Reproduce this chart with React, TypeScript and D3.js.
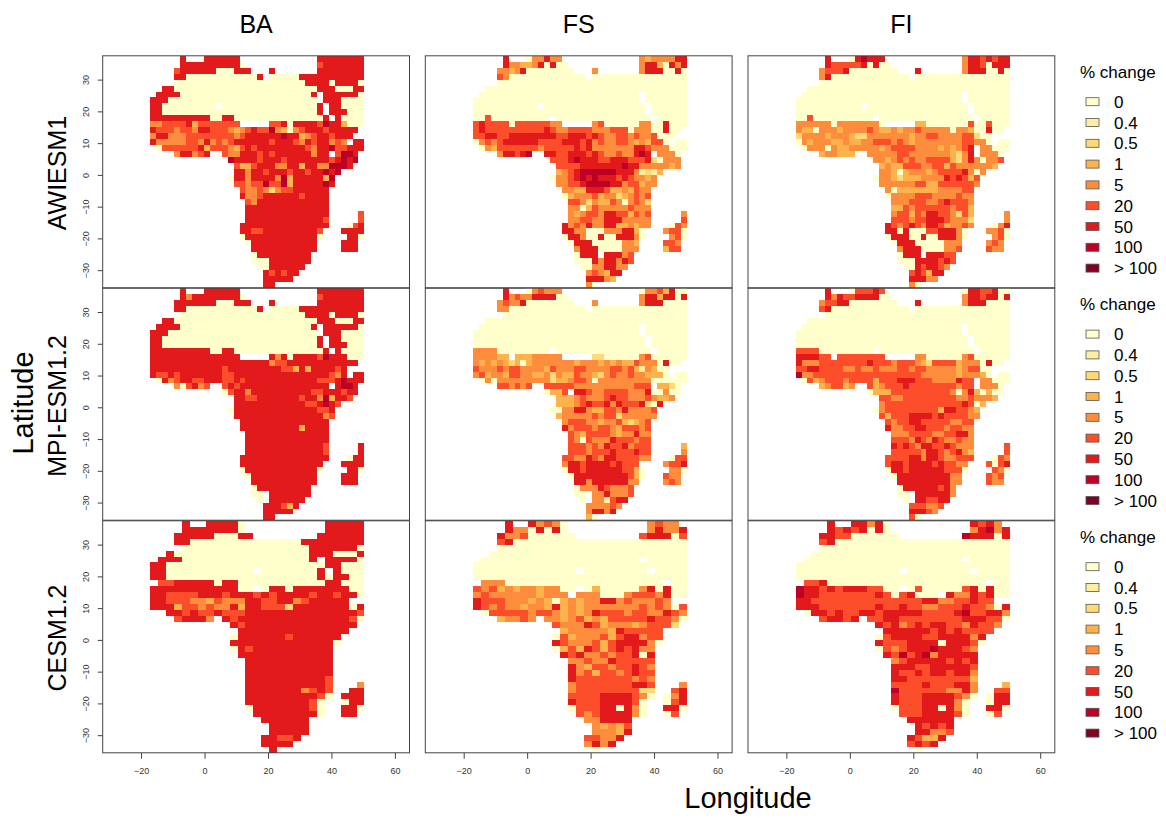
import React, { useEffect, useRef } from 'react';
import * as d3 from 'd3';

// class index -> colour, one per legend entry
const classColors = ['#FFFFCC', '#FFEDA0', '#FED976', '#FEB24C', '#FD8D3C', '#FC4E2A', '#E31A1C', '#BD0026', '#800026'];
const classLabels = ['0', '0.4', '0.5', '1', '5', '20', '50', '100', '> 100'];
const columnNames = ['BA', 'FS', 'FI'];
const modelNames = ['AWIESM1', 'MPI-ESM1.2', 'CESM1.2'];
const lonTicks = [-20, 0, 20, 40, 60];
const latTicks = [-30, -20, -10, 0, 10, 20, 30];

// rows north to south, tokens are "count*class" or literal classes, "." is no data
const baAwi = [
  '5*. 6 3*. 6*6 13*. 8*6',
  '5*. 10*6 0 12*. 5 7*6',
  '4*. 5 6*6 000 666 ... 6 7*. 8*6',
  '4*. 66 12*0 6 . 5*0 11*6',
  '4*. 22*0 6666 0 6666 0',
  '.. 66 24*0 666 000 66',
  '. 6666 22*0 6 . 6*6 0',
  '666 25*0 . 666 0000',
  '66 9*0 . 16*0 6 . 66 0000',
  '66 26*0 6 . 666 000',
  '10*6 00 66 15*0 6 . 6 0000',
  '44 5555 6 3 555555 5 5*. 55 6 0 6666 5 7 66 3 000',
  '6 555 4 55 4 66 555 4 3 4 5 6 55 7 4 3 0 4 5 666 5 66666 .',
  '4 66 444 5555555 5 4 5 666666 7 66 3 4 5 66 5 666 ..',
  '6 44444 55 4 6 4 5 4 5 666666 5 666 5 4 6 5 66 4 5 4 . 66',
  '. 0 555555 6 3 5 5 5 4 3 5 6 5 8*6 5 4 66 7 55 666',
  '4*. 4 66 4 5 6 .. 5 44 666 5 6 5 666666 4 66 . 5 77 6 .',
  '13*. 7 6666 5 666 5 7*6 5 6 7 6 7 .',
  '14*. 5 33 5 666 44 66 3 66 44 777 6 ..',
  '14*. 66 4 66 5 666 5 66 5 66 7 6 7 ....',
  '13*. 0 66 4 6666 4 7 3 66666 3 7 5*.',
  '14*. 55 4 55 7 55 7 3 66666 7 6 5*.',
  '15*. 5 44 5 4 2 4 55 666666 6*.',
  '15*. 6 44 5 666666 5 6666 6*.',
  '16*. 5 4 12*6 6*.',
  '16*. 14*6 6*.',
  '16*. 14*6 5*. 5',
  '16*. 13*6 5 5*. 5',
  '15*. 15*6 ... 0 5 6',
  '15*. 66 55 9*6 5 ... 6666',
  '15*. 0 12*6 0 4*. 66 0',
  '16*. 0 11*6 4*. 666 .',
  '17*. 11*6 4*. 666 .',
  '17*. 0 9*6 9*.',
  '17*. 000 7*6 9*.',
  '18*. 00 6*6 10*.',
  '19*. 6 5 6 5 66 11*.',
  '19*. 66666 12*.',
  '19*. 66 15*.',
];

const fsAwi = [
  '5*. 6 3*. 0 446 44 13*. 4 3 4444 66',
  '5*. 6 44 33 4 6 0 6 00 12*. 4 66 3 0 6 4 6',
  '4*. 44 3 4 6 8*0 ... 4 7*. 4 666 00 6 0',
  '4*. 5 4 13*0 . 16*0',
  '4*. 32*0',
  '.. 34*0',
  '. 27*0 . 7*0',
  '28*0 . 7*0',
  '11*0 . 17*0 . 6*0',
  '29*0 . 6*0',
  '00 5 10*0 . 16*0 . 5*0',
  '5 6 5555 0 555555 44 5*. 4 5 000000 44 00 6 000',
  '5 6 10*5 6 5 44 5555 444 555 0 444 00 6 00 .',
  '55 66 55 66666666 55 666 5 6 5 44 55 4 5 44 5 000 ..',
  '0 4 5 4 5 666666 5555 666 5 6 4 5 44 55 4 3 4 3 5 5 0 . 00',
  '. 0 4 3 5555555 4 55555 6 5 6 4444444 66 5 444 000',
  '4*. 4 66 5 6 7 .. 66 55 666 5 6 5 44 5 44 6 7 6 . 444 0 .',
  '13*. 555 6 7 666 55 666 55 5 6 2 0 444 .',
  '14*. 5555 7*6 7 66 44444 3 4 .',
  '14*. 3 4 5 6 777777 666 4 1 2 1 3 4*.',
  '13*. 0 44 5 6 7 6 7 666 5 6 5 44 3 4 5*.',
  '14*. 44 55 6 7777 66 4 55 3 44 5*.',
  '15*. 44 33 666 5 33 4 3 5 44 6*.',
  '15*. 0 3 444 5 3 44 2 3 4 5 4 5 6*.',
  '16*. 55 4 2 4 33 5 4 0 4 5 4 2 6*.',
  '16*. 44 0 3 5 44 444 5 444 6*.',
  '16*. 4 3 4 55 4 66 55 3 5 4 5 5*. 4',
  '16*. 4 4 55 44 666 4 444 4 5*. 5',
  '15*. 6 4 5 4 6 44 66 33 4 3 44 ... 0 5 4',
  '15*. 66 44 0 00 444 66 3 0 ... 4 55 0',
  '15*. 0 66 4 00 6 00 666 4 0 4*. 4 5 0',
  '16*. 0 666 00000 44 3 4*. 55 4 .',
  '17*. 4 666 0000 44 4 4*. 3 55 .',
  '17*. 0 666 . 666 45 9*.',
  '17*. 000 6 4 66 4 6 5 9*.',
  '18*. 00 44 66 44 10*.',
  '19*. 4 5 4 3 66 11*.',
  '19*. 666 43 12*.',
  '19*. 4 0 15*.',
];

const fiAwi = [
  '5*. 6 3*. 0 67 666 13*. 4 66 5 6 5 66',
  '5*. 6 55555 6 0 6 00 12*. 4 66 5 0 666',
  '4*. 4 55 5 6 8*0 ... 6 7*. 4 666 00 6 0',
  '4*. 4 6 13*0 . 16*0',
  '4*. 32*0',
  '.. 34*0',
  '. 27*0 . 7*0',
  '28*0 . 7*0',
  '11*0 . 17*0 . 6*0',
  '29*0 . 6*0',
  '00 5 10*0 . 16*0 . 5*0',
  '444444 0 444444 4 0 5*. 33 7*0 5 00 5 000',
  '4 33 0 444 3 4444 5 4 33 4 3 44 5 4 4444 0 44 3 00 6 00 .',
  '2 4444 3 444 3 22 7*4 3 44 55 4444 55 2 00 ...',
  '0 4 3 444 33 4 33 44 555 4 5 4 3 8*4 55 44 0 . 00',
  '. 0 44 4 0 4 33 44444 3 4 5555 4444 3 4 3 4 56 . 44 000',
  '4*. 3 44 333 .. 44444 55 7*4 3 2 4 6 . 444 0 .',
  '13*. 44 3 4 5 4 5 44 5555 3 2 4 6 4 0 44 5 .',
  '14*. 3 4 33 555 44 55 3 5 44 4444 3 ..',
  '14*. 44 3 0 3 44 4 3 4 5 555 6 4 0 4 4*.',
  '13*. 0 44 3 2 333 44 44 6 5 6 5 3 5 5*.',
  '14*. 6*4 55 33 6*5 4 5*.',
  '15*. 4 0 7*3 44 44 55 6*.',
  '15*. 0 4444 555 444 4 5 44 6*.',
  '16*. 444 555 44 5 6 555 4 6*.',
  '16*. 33 5 4 55 5555 4 55 3 6*.',
  '16*. 4 55 3 5 4 66 55 4 2 5 3 5*. 4',
  '16*. 555 4 55 666 5 4 44 2 5*. 4',
  '15*. 6 5 4 5 6 5 4 66 5 3 44 5 4 ... 0 4 6',
  '15*. 66 0 6 00 0 55 666 4 0 ... 44 5 0',
  '15*. 0 666 00 6 00 666 4 0 4*. 4 5 0',
  '16*. 0 666 00000 444 4*. 4 5 4 .',
  '17*. 4 666 0000 44 5 4*. 5 44 .',
  '17*. 0 666 . 666 55 9*.',
  '17*. 000 6666 5 6 5 9*.',
  '18*. 00 6 5 66 5 4 10*.',
  '19*. 5 6 5 3 66 11*.',
  '19*. 666 44 12*.',
  '19*. 4 0 15*.',
];

const baMpi = [
  '5*. 6 3*. 6*6 13*. 8*6',
  '5*. 6 4 8*6 0 12*. 5 7*6',
  '4*. 6 6*6 000 666 ... 6 7*. 8*6',
  '4*. 66 12*0 6 . 5*0 11*6',
  '5*. 21*0 6666 0 6666 0',
  '.. 66 24*0 666 000 66',
  '. 6666 22*0 6 . 6*6 0',
  '666 25*0 . 666 0000',
  '66 26*0 6 . 66 0000',
  '66 26*0 6 . 666 000',
  '10*6 00 66 15*0 6 . 6 0000',
  '15*6 5*. 6 4 6 0 6666 5 7 666 000',
  '20*6 4 55 12*6 .',
  '12*6 5 9*6 55 3 6 3 6666 5 6 ...',
  '6 55 6 5 7*6 55 16*6 5 4 6 . 66',
  '. 0 6 4 5 66 55 666 55 6 5 12*6 555 6 7 666',
  '4*. 4 0 5 6 4 5 .. 5 6 5 15*6 . 6 77 6 .',
  '12*. 0 5 66 4 10*6 55 666 5 66 .',
  '14*. 66 55 7*6 5 66 4 7 3 66 5 ..',
  '14*. 12*6 55 6 7 6 5 4*.',
  '13*. 0 14*6 55 6 5*.',
  '14*. 15*6 4 5 5*.',
  '15*. 15*6 6*.',
  '15*. 10*6 3 6666 6*.',
  '16*. 14*6 6*.',
  '16*. 14*6 6*.',
  '16*. 13*6 5 5*. 6',
  '16*. 13*6 5 5*. 6',
  '15*. 15*6 ... 0 66',
  '15*. 14*6 ... 6666',
  '15*. 0 12*6 0 4*. 66 0',
  '16*. 0 11*6 4*. 666 .',
  '17*. 11*6 4*. 666 .',
  '17*. 0 9*6 9*.',
  '17*. 00 . 7*6 9*.',
  '18*. 0 . 6*6 10*.',
  '19*. 666 5 3 6 11*.',
  '19*. 66666 12*.',
  '19*. 66 15*.',
];

const fsMpi = [
  '5*. 6 3*. 0 4 5 444 13*. 0 44 5 3 6 00',
  '5*. 6 4 5 44 6666 00 12*. 4 66 3 66 0 6',
  '4*. 4 5 44 6 8*0 ... 4 7*. 4 666 0000',
  '4*. 44 13*0 . 16*0',
  '5*. 31*0',
  '.. 34*0',
  '. 27*0 . 7*0',
  '28*0 . 7*0',
  '29*0 . 6*0',
  '29*0 . 6*0',
  '4444 9*0 . 16*0 . 5*0',
  '4444 33 . 333 44444 5*. 22 000000 4 5 000000',
  '4 3 4 3 4 3 2 3 0 3 7*4 3 444 3 4 3 4 33 5 444 0 6 00 .',
  '5 444 5 4 55 4444 3 5 444 55 4444 55 4 5 3 1 4 3 00 ...',
  '4 5 3 44 3 55 44 33 4 2 4 33 5 44 3 2 4 5 44 5 44 333 0 . 00',
  '. 0 4 0 9*4 2 33 4 55 4 0 7*4 44 6*0',
  '4*. 55 4 5 4 5 .. 55555 44 8*4 555 . 33 2 0 .',
  '12*. 0 33 5 . 66 5 44 5 555 444 6 00 4 00 .',
  '14*. 333 4 5 444 5 6 55 444 5 4 33 4 ..',
  '14*. 333 4 5 6 55 6 4 6 555 6 2 0 6 4*.',
  '13*. 00 44 66 4 33 55 4 6 4444 5 5*.',
  '14*. 3 44444 5 4 55 2 444444 5*.',
  '15*. 4 555 44 3 44 5 3 2 3 4 5 6*.',
  '15*. 6 4 555 4 55 4 3 55 5 4 5 6*.',
  '16*. 5 4 3 5 555 4 3 44 6 44 6*.',
  '16*. 5 4 0 5 444 6 555 4 55 6*.',
  '16*. 555 4 5 4 6 55 6 4 555 5*. 3',
  '16*. 555 4 555 6 555 6 55 5*. 4',
  '15*. 55 44 6 5 4 66 5555 44 ... 0 55',
  '15*. 4 66 5 6666 5 6 555 4*. 4 55 6',
  '15*. 0 66 5 666666 55 3 0 4*. 44 0',
  '16*. 0 9*6 5 3 0 ... 5 44 .',
  '17*. 66 4 666666 44 4*. 4 5 4 .',
  '17*. 0 444 6 5 444 5 9*.',
  '17*. 00 . 44 6 444 5 9*.',
  '18*. 0 . 44 1 5 66 10*.',
  '19*. 4444 5 4 11*.',
  '19*. 4 66 4 6 12*.',
  '19*. 3 0 15*.',
];

const fiMpi = [
  '5*. 6 3*. 0 555 6 5 13*. 0 66 55 6 00',
  '5*. 6 4 6 55 6666 00 12*. 4 66 5 66 0 6',
  '4*. 4 55 66 8*0 ... 6 7*. 4 666 0000',
  '4*. 5 6 13*0 . 16*0',
  '5*. 31*0',
  '.. 34*0',
  '. 27*0 . 7*0',
  '28*0 . 7*0',
  '29*0 . 6*0',
  '29*0 . 6*0',
  '5555 9*0 . 16*0 . 5*0',
  '6666 55 . 8*5 5*. 44 6*0 4 5 6*0',
  '6 444 8*5 6 555 4 555 4 3 2 5555 3 444 0 6 00 .',
  '55 66 5555 44 5 44 5 444 55 4 55 44444 3 4 55 00 ...',
  '7 44 18*5 6*4 3 444 3 0 . 00',
  '. 0 5 3 4 555 4 5555 3 555 666 555 4444 6 55 . 44 000',
  '4*. 3 4 55 3 4 .. 5 3 4 555 6 8*5 4 55 . 444 0 .',
  '12*. 0 333 10*5 4 0 4 6 3 0 3 00 .',
  '14*. 55 44 9*5 44 5 444 3 ..',
  '14*. 4 13*5 6 5 0 3 4*.',
  '13*. 0 4 9*5 3 66 55 4 3 5*.',
  '14*. 5 3 555 6666 5 6 5555 44 5*.',
  '15*. 5 4 55 66 55555 44 55 6*.',
  '15*. 6 44 55 66 555 4 55 44 6*.',
  '16*. 444 5555 44 55 66 4 6*.',
  '16*. 555 4 6 5 4 6 5 44 5 44 6*.',
  '16*. 6 5 6 5 4 66 55 6 5 444 5*. 5',
  '16*. 55555 4 66 5 4 5 6 4 3 5*. 5',
  '15*. 5555 66 4 66 5 44 555 ... 0 5 4',
  '15*. 5 66 5 6666 5 6 55 44 ... 5 0 5 6',
  '15*. 0 66 5 666666 555 0 4*. 5 4 0',
  '16*. 0 9*6 44 4*. 5 4 5 .',
  '17*. 9*6 44 4*. 5 44 .',
  '17*. 0 666666 5 6 4 9*.',
  '17*. 00 . 666666 4 9*.',
  '18*. 0 . 66 55 66 10*.',
  '19*. 555 44 5 11*.',
  '19*. 666 5 4 12*.',
  '19*. 5 0 15*.',
];

// CESM sits on a coarser longitude grid, 27 columns
const baCesm = [
  '4*. 6 .. 6666 0 10*. 66666',
  '4*. 7*6 0 10*. 66666',
  '... 66666 000 66 8*. 666666',
  '... 66 14*0 8*6',
  '4*. 16*0 666666 0',
  '.. 6 0 16*0 666 000 6',
  '. 666 16*0 6 . 6666 0',
  '66 19*0 0 66 000',
  '66 11*0 . 7*0 6 . 6 000',
  '66 19*0 6 0 66 00',
  '. 55 66666 0 66 11*0 66 000',
  '11*6 00 . 0 66 0 7*6 00',
  '66 5555 666 5 666 5 6 5 6666 5 66 5 66 0',
  '66 555 44 3 5 444 66 55 66 4 5 66666 ..',
  '666 3 55 4 5 44 6 3 66 555 2 7*6 0 6',
  '.. 66 5 6 55 6 555 14*6 5',
  '... 5 666 4 . 6 5 14*6 5 0',
  '10*. 6 5 14*6 .',
  '11*. 14*6 ..',
  '10*. 0 666666 5 666666 ...',
  '10*. 13*6 0 ...',
  '10*. 0 6 5 10*6 4*.',
  '11*. 12*6 4*.',
  '12*. 11*6 4*.',
  '12*. 11*6 4*.',
  '12*. 11*6 4*.',
  '12*. 10*6 5 4*.',
  '12*. 10*6 5 ... 4',
  '12*. 7*6 4 5 6 5 .. 66',
  '12*. 9*6 5 0 . 666',
  '12*. 8*6 5 0 .. 0 66',
  '12*. 0 7*6 5 0 .. 66 0',
  '13*. 8*6 0 .. 66 .',
  '14*. 6*6 7*.',
  '15*. 5*6 7*.',
  '15*. 5*6 7*.',
  '14*. 66 55 6 8*.',
  '14*. 6666 9*.',
  '15*. 6 11*.',
];

const fsCesm = [
  '4*. 6 .. 6 4 5 4 0 10*. 4 5 44 .',
  '4*. 6 44 0 6 0 6 0 10*. 4 6 44 6',
  '... 6 4 4 5 000000 8*. 5 666 0 5',
  '... 5 6 22*0',
  '... 24*0',
  '.. 25*0',
  '. 20*0 . 5*0',
  '27*0',
  '13*0 . 8*0 . 4*0',
  '27*0',
  '. 444 20*0 . 00',
  '5 4 5 3 4 3 44 3 44 00 . 0 3 00000 4 6 0 6 00',
  '4 5 444444 3 444 . 444 000 4 555 4 6 00',
  '6 555 444 3 4 3 0 3 4 3 44 66 4 5 444 5 4 ..',
  '6 5 4 5 44 3 44 3 6 3 4 3 7*4 5 4 5 4 0 5',
  '. 0 55555 4 55 4 3 4 3 4 6 555 4 55 44 6 5 4',
  '... 3 44 5 4 . 44 3 4 5 3 4 3 55555 6 55 4 0',
  '10*. 5 444 6 5 3 44 4 3 4 555 2 .',
  '11*. 3 4444 4 3 6 55555 ...',
  '10*. 0 5 3 444 5 3 5 66 4 55 ...',
  '10*. 6 5 444 5 3 5 6666 4 0 ...',
  '10*. 0 3 5 3 6 5 3 5 6 5 6 44 4*.',
  '11*. 6 5 6 44 5 4 55 6 0 6 4*.',
  '12*. 44 5 44 6 55555 4*.',
  '12*. 6 4 3 55 4 55 6 5 4 4*.',
  '12*. 6 4 5 3 55 4 5 6 55 4*.',
  '12*. 6 7*5 4 5 4 4*.',
  '12*. 4 7*5 66 5 ... 4',
  '12*. 4 8*5 22 .. 5 6',
  '12*. 5555 6666 5 4 0 . 0 4 6',
  '12*. 6 555 6666 5 0 .. 0 5 6',
  '12*. 0 555 66 0 6 4 0 .. 66 0',
  '13*. 5 4 5 6666 4 0 .. 0 5 .',
  '14*. 44 6666 7*.',
  '15*. 4 3 4 3 5 7*.',
  '15*. 444 3 6 7*.',
  '14*. 55 44 6 8*.',
  '14*. 4 6 4 6 9*.',
  '15*. 0 11*.',
];

const fiCesm = [
  '4*. 6 .. 66 4 6 0 10*. 6 5 6 4 .',
  '4*. 6 5 6 5 6 0 6 0 10*. 4 6 7 4 6',
  '... 66 55 000000 8*. 7 666 0 6',
  '... 5 6 22*0',
  '... 24*0',
  '.. 25*0',
  '. 20*0 . 5*0',
  '27*0',
  '13*0 . 8*0 . 4*0',
  '27*0',
  '. 55 6 20*0 . 00',
  '7 66 5 6 5 666 55 00 . 0 5 00000 5 6 0 6 00',
  '7 66 7*5 6 5 0 5 6 000 . 6 44 6 5 6 00',
  '66 14*5 66 44 55 6 55 ..',
  '666 7*5 6 55 6 55 44 555 6 55 4 0 6',
  '. 0 66 5 6 55 66 5 66666 5555 6 7 55 66 4',
  '... 5 66 5 6 . 55 66 8*5 666 55 0',
  '10*. 6 5 6 4 5 6 5 66 55 4 6 55 4 .',
  '11*. 666666 5 6 5 6 5555 ..',
  '10*. 0 5 6666 55 6666 4 6 ...',
  '10*. 6 555 6666 0 666 5 0 ...',
  '10*. 0 5 4 5 666 7 666 5 4 4*.',
  '11*. 6 5 7 5 6 7 4 66666 4*.',
  '12*. 4 5 66666 5 6 5 6 4*.',
  '12*. 666 55 66666 5 4*.',
  '12*. 6 55 6 5 66 5 66 4 4*.',
  '12*. 66 8*5 3 4*.',
  '12*. 5555 6 555 66 4 ... 3',
  '12*. 7 6*5 44 6 4 .. 55',
  '12*. 6 555 6666 5 4 0 . 0 66',
  '12*. 6 555 6666 4 0 .. 0 66',
  '12*. 0 555 66 0 6 4 0 .. 66 0',
  '13*. 555 6666 5 0 .. 0 5 .',
  '14*. 6*6 7*.',
  '15*. 65656 7*.',
  '15*. 66 44 5 7*.',
  '14*. 6 5 33 6 8*.',
  '14*. 5 6 5 6 9*.',
  '15*. 0 11*.',
];

const panelRows = [
  [baAwi, fsAwi, fiAwi],
  [baMpi, fsMpi, fiMpi],
  [baCesm, fsCesm, fiCesm],
];

const expandRow = (row: string) =>
  row
    .split(' ')
    .map((tok) => {
      if (tok.includes('*')) {
        const [n, c] = tok.split('*');
        return c.repeat(+n);
      }
      return tok;
    })
    .join('');

const panelLefts = [102.7, 425.3, 748];
const panelTops = [55.8, 288.2, 520.8];
const panelW = 306.8;
const panelH = 232;
const lonStart = -17.1;
const latStart = 37.5;
const latStep = 1.875;
const legendX = 1086;
const legendTops = [72, 304.4, 537];
const font = '"Liberation Sans", Arial, sans-serif';

export default function App() {
  const svgRef = useRef<SVGSVGElement>(null);

  useEffect(() => {
    const svg = d3.select(svgRef.current);
    svg.selectAll('*').remove();

    panelRows.forEach((cols, ri) => {
      cols.forEach((rows, ci) => {
        const left = panelLefts[ci];
        const top = panelTops[ri];
        const xScale = d3.scaleLinear().domain([-32.1, 64.6]).range([left, left + panelW]);
        const yScale = d3.scaleLinear().domain([37.5, -35.55]).range([top, top + panelH]);
        const lonStep = ri === 2 ? 2.5 : 1.875;

        const cells: { lon: number; lat: number; v: number }[] = [];
        rows.forEach((row, r) => {
          expandRow(row)
            .split('')
            .forEach((ch, c) => {
              if (ch !== '.') cells.push({ lon: lonStart + c * lonStep, lat: latStart - r * latStep, v: +ch });
            });
        });

        // snap cell edges to whole pixels so neighbours never leave a seam
        const g = svg.append('g');
        g.selectAll('rect')
          .data(cells)
          .enter()
          .append('rect')
          .attr('x', (d) => Math.round(xScale(d.lon)))
          .attr('y', (d) => Math.round(yScale(d.lat)))
          .attr('width', (d) => Math.round(xScale(d.lon + lonStep)) - Math.round(xScale(d.lon)))
          .attr('height', (d) => Math.round(yScale(d.lat - latStep)) - Math.round(yScale(d.lat)))
          .attr('fill', (d) => classColors[d.v])
          .attr('shape-rendering', 'crispEdges');

        g.append('rect')
          .attr('x', left)
          .attr('y', top)
          .attr('width', panelW)
          .attr('height', panelH)
          .attr('fill', 'none')
          .attr('stroke', '#444')
          .attr('stroke-width', 1);

        if (ci === 0) {
          const yAxis = d3.axisLeft(yScale).tickValues(latTicks).tickSize(5).tickFormat(d3.format('d'));
          const ax = svg.append('g').attr('transform', `translate(${left},0)`).call(yAxis);
          ax.select('.domain').remove();
          ax.selectAll('line').attr('stroke', '#444');
          ax.selectAll('text')
            .attr('font-family', font)
            .attr('font-size', 9)
            .attr('fill', '#333')
            .attr('text-anchor', 'middle')
            .attr('dy', 0)
            .attr('x', 0)
            .attr('y', 0)
            .attr('transform', 'translate(-13.4,0) rotate(-90)');
        }
        if (ri === 2) {
          const xAxis = d3.axisBottom(xScale).tickValues(lonTicks).tickSize(6).tickFormat(d3.format('d'));
          const ax = svg.append('g').attr('transform', `translate(0,${top + panelH})`).call(xAxis);
          ax.select('.domain').remove();
          ax.selectAll('line').attr('stroke', '#444');
          ax.selectAll('text')
            .attr('font-family', font)
            .attr('font-size', 9)
            .attr('fill', '#333')
            .attr('y', 18)
            .attr('dy', '.32em');
        }
      });
    });

    columnNames.forEach((name, i) => {
      svg.append('text')
        .attr('x', panelLefts[i] + panelW / 2)
        .attr('y', 33)
        .attr('text-anchor', 'middle')
        .attr('font-family', font)
        .attr('font-size', 25)
        .text(name);
    });

    const modelCenters = [173, 406, 638];
    modelNames.forEach((name, i) => {
      svg.append('text')
        .attr('transform', `translate(66,${modelCenters[i]}) rotate(-90)`)
        .attr('text-anchor', 'middle')
        .attr('font-family', font)
        .attr('font-size', 25)
        .text(name);
    });

    svg.append('text')
      .attr('transform', 'translate(33,403) rotate(-90)')
      .attr('text-anchor', 'middle')
      .attr('font-family', font)
      .attr('font-size', 29)
      .text('Latitude');

    svg.append('text')
      .attr('x', 748)
      .attr('y', 808)
      .attr('text-anchor', 'middle')
      .attr('font-family', font)
      .attr('font-size', 29)
      .text('Longitude');

    legendTops.forEach((t) => {
      const lg = svg.append('g');
      lg.append('text')
        .attr('x', 1080)
        .attr('y', t + 6)
        .attr('font-family', font)
        .attr('font-size', 17)
        .text('% change');
      classLabels.forEach((label, i) => {
        const cy = t + 29.7 + i * 20.8;
        lg.append('rect')
          .attr('x', legendX)
          .attr('y', cy - 4)
          .attr('width', 13)
          .attr('height', 8)
          .attr('fill', classColors[i])
          .attr('stroke', '#555')
          .attr('stroke-width', 0.8);
        lg.append('text')
          .attr('x', 1114)
          .attr('y', cy + 6)
          .attr('font-family', font)
          .attr('font-size', 17)
          .text(label);
      });
    });
  }, []);

  return (
    <svg
      ref={svgRef}
      width={1166}
      height={818}
      style={{ position: 'absolute', left: 0, top: 0, background: '#fff' }}
    />
  );
}
